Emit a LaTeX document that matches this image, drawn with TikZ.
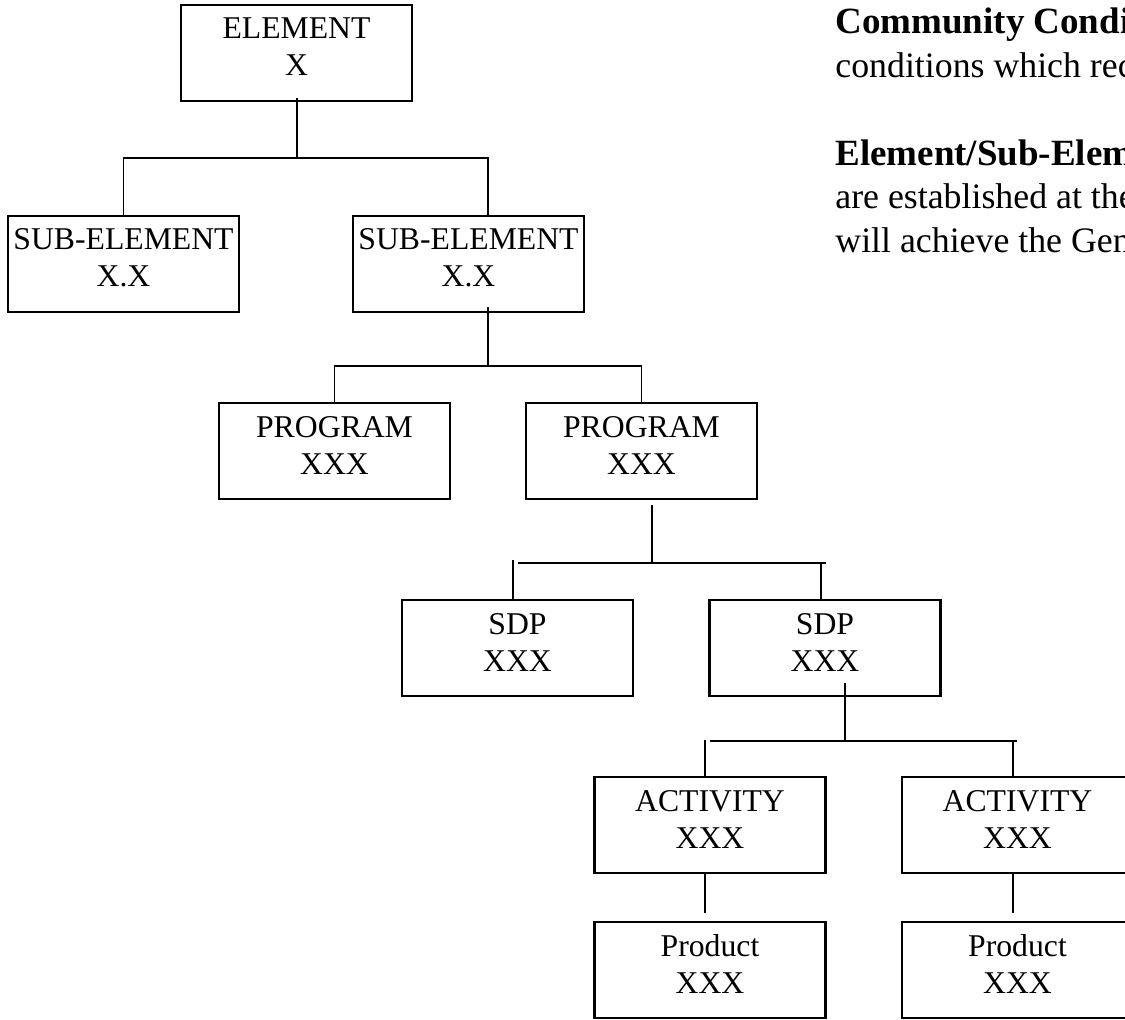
\documentclass[tikz,border=0pt]{standalone}
\usepackage{fontspec}
\setmainfont{Liberation Serif}
\usetikzlibrary{calc}
\begin{document}
\begin{tikzpicture}[x=0.5pt,y=-0.5pt,
  box/.style={draw,line width=1.1pt,rectangle,minimum width=115.5pt,minimum height=48pt,inner sep=0pt,outer sep=0pt},
  boxtext/.style={align=center,inner sep=0pt,font=\fontsize{15.85}{18.5}\selectfont,yshift=3pt},
  conn/.style={line width=0.9pt},
  note/.style={anchor=base west,inner sep=0pt,font=\fontsize{17.9}{22}\selectfont},
  notehead/.style={anchor=base west,inner sep=0pt,font=\fontsize{18.5}{22}\selectfont\bfseries}]
\useasboundingbox (0,0) rectangle (1125,1019);
\clip (0,0) rectangle (1125,1019);

% boxes
\node[box] (el) at (296.5,53) {};
\node[boxtext] (elt) at (el.center) {ELEMENT\\X};
\node[box] (sub1) at (123.5,264) {};
\node[boxtext] (sub1t) at (sub1.center) {SUB-ELEMENT\\X.X};
\node[box] (sub2) at (468.5,264) {};
\node[boxtext] (sub2t) at (sub2.center) {SUB-ELEMENT\\X.X};
\node[box] (prog1) at (334.5,451) {};
\node[boxtext] (prog1t) at (prog1.center) {PROGRAM\\XXX};
\node[box] (prog2) at (641.5,451) {};
\node[boxtext] (prog2t) at (prog2.center) {PROGRAM\\XXX};
\node[box] (sdp1) at (517.5,648) {};
\node[boxtext] (sdp1t) at (sdp1.center) {SDP\\XXX};
\node[box] (sdp2) at (825,648) {};
\node[boxtext] (sdp2t) at (sdp2.center) {SDP\\XXX};
\node[box] (act1) at (710,825) {};
\node[boxtext] (act1t) at (act1.center) {ACTIVITY\\XXX};
\node[box] (act2) at (1017.5,825) {};
\node[boxtext] (act2t) at (act2.center) {ACTIVITY\\XXX};
\node[box] (prod1) at (710,970) {};
\node[boxtext] (prod1t) at (prod1.center) {Product\\XXX};
\node[box] (prod2) at (1017.5,970) {};
\node[boxtext] (prod2t) at (prod2.center) {Product\\XXX};

% junction coordinates
\coordinate (j1) at (297,158);
\coordinate (x2) at (488,0);
\coordinate (j2) at (488,366);
\coordinate (s2) at (488,307);
\coordinate (p2) at (652,505);
\coordinate (j3) at (652,563);
\coordinate (b3l) at (518,563);
\coordinate (b3r) at (826,563);
\coordinate (d3l) at (513,560);
\coordinate (d3r) at (821,563);
\coordinate (q2) at (845,683);
\coordinate (j4) at (845,741);
\coordinate (b4l) at (710,741);
\coordinate (b4r) at (1017,741);
\coordinate (d4l) at (705,740);
\coordinate (d4r) at (1013,741);
\coordinate (e1) at (705,913);
\coordinate (e2) at (1013,913);

% connectors
\draw[conn] ($(el.south)+(0.5,-3)$) -- (j1);
\draw[conn] (sub1.north) |- (j1) -| (x2 |- sub2.north);
\draw[conn] (s2) -- (j2);
\draw[conn] (prog1.north) |- (j2) -| (prog2.north);
\draw[conn] (p2) -- (j3);
\draw[conn] (b3l) -- (b3r);
\draw[conn] (d3l) -- (d3l |- sdp1.north);
\draw[conn] (d3r) -- (d3r |- sdp2.north);
\draw[conn] (q2) -- (j4);
\draw[conn] (b4l) -- (b4r);
\draw[conn] (d4l) -- (d4l |- act1.north);
\draw[conn] (d4r) -- (d4r |- act2.north);
\draw[conn] (d4l |- act1.south) -- (e1);
\draw[conn] (d4r |- act2.south) -- (e2);

% right-hand text (cut off at the page edge, as in the reference)
\node[notehead] (n1) at (835,33) {Community Condi};
\node[note] (n2) at (835,77) {conditions which rec};
\node[notehead] (n3) at (835,165) {Element/Sub-Elem};
\node[note] (n4) at (835,208) {are established at the};
\node[note] (n5) at (835,252) {will achieve the Gen};
\end{tikzpicture}
\end{document}
